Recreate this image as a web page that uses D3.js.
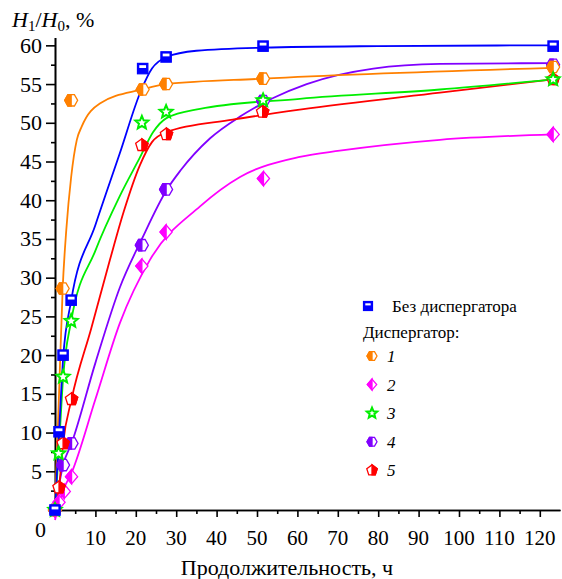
<!DOCTYPE html>
<html><head><meta charset="utf-8">
<script src="https://cdn.jsdelivr.net/npm/d3@7"></script></head>
<body style="margin:0">
<svg id="chart" width="562" height="579"></svg>
<script>
const FONT = 'Times New Roman';

// measured points (hours, H1/H0 %)
const tBlue = [0, 1, 2, 4, 21.7, 27.5, 51.5, 123.3];
const vBlue = [0, 10.1, 20, 27.1, 57.0, 58.5, 59.9, 59.9];
const tOrange = [0, 1.9, 4, 21.7, 27.5, 51.5, 123.3];
const vOrange = [0, 28.6, 52.9, 54.3, 55.0, 55.7, 57.2];
const tMagenta = [0, 1, 2.3, 4.1, 21.5, 27.5, 51.6, 123.3];
const vMagenta = [0, 1.0, 2.4, 4.3, 31.5, 35.9, 42.8, 48.5];
const tGreen = [0, 0.9, 2, 4, 21.5, 27.5, 51.5, 123.3];
const vGreen = [0, 7.3, 17.2, 24.4, 50.0, 51.4, 52.9, 55.6];
const tPurple = [0, 2, 4.1, 21.5, 27.5, 51.5, 123.3];
const vPurple = [0, 5.8, 8.6, 34.2, 41.4, 52.8, 57.5];
const tRed = [0, 1, 2, 4.1, 21.5, 27.6, 51.4, 123.3];
const vRed = [0, 2.9, 8.6, 14.3, 47.1, 48.5, 51.4, 55.6];

// smoothed fit curves, knots
const fitBlue = [[0,0],[1,10],[2,19.5],[4,27],[10,36.8],[16,46],[21.4,54.3],[24,57],[27.6,58.5],[35,59.3],[51.5,59.7],[80,59.9],[123.3,60]];
const fitOrange = [[0,0],[1,15],[1.9,28.6],[2.8,36.2],[4,43],[5.4,47.8],[6.6,49.5],[11.1,52.5],[21.5,54.3],[27.5,55],[51.5,55.7],[123.3,57.1]];
const fitGreen = [[0,0],[0.9,7.3],[2,17],[4,24.4],[10,33.5],[16,40.5],[21,45.5],[24.3,48.8],[27.6,50.6],[35.9,51.8],[60.6,53.1],[95.3,54.3],[123.3,55.6]];
const fitRed = [[0,0],[1,2.9],[2,8.6],[4.1,14.3],[9,23.5],[13.6,32.3],[17,38.5],[21,44.5],[24,47.5],[27.6,48.8],[44,50.4],[60.6,51.7],[95.3,53.9],[123.3,55.6]];
const fitPurple = [[0,0],[2,5.8],[4.1,8.6],[10,19],[16.1,28.8],[21.5,35],[27.6,41.3],[31,43.8],[38.4,48],[45.8,50.8],[54,53.2],[62.3,55],[78.8,57],[95.3,57.6],[123.3,57.7]];
const fitMagenta = [[0,-1.3],[1,0.8],[2,2.5],[4.1,4.8],[10,14.3],[16.1,24.2],[23.5,32.3],[35.9,39.2],[45.8,43],[60.6,45.6],[70.5,46.4],[95.3,47.8],[123.3,48.5]];

const xTicks = [10, 20, 30, 40, 50, 60, 70, 80, 90, 100, 110, 120];
const yTicks = [5, 10, 15, 20, 25, 30, 35, 40, 45, 50, 55, 60];

const svg = d3.select('#chart');
const x = d3.scaleLinear().domain([0, 125]).range([55, 560]);
const y = d3.scaleLinear().domain([0, 61]).range([510, 37.6]);

// marker shapes: draw into a g centred at 0,0
function hexagon(g, color, r) {
  const h = r * 0.87;
  g.append('path').attr('d', `M${-r},0L${-r/2},${-h}L${r/2},${-h}L${r},0L${r/2},${h}L${-r/2},${h}Z`)
    .attr('fill', '#fff').attr('stroke', color).attr('stroke-width', 1.3);
  g.append('path').attr('d', `M${-r},0L${-r/2},${-h}L0,${-h}L0,${h}L${-r/2},${h}Z`)
    .attr('fill', color).attr('stroke', color).attr('stroke-width', 1.3);
}
function diamond(g, color, r) {
  const w = r * 0.85;
  g.append('path').attr('d', `M0,${-r}L${w},0L0,${r}L${-w},0Z`)
    .attr('fill', '#fff').attr('stroke', color).attr('stroke-width', 1.3);
  g.append('path').attr('d', `M0,${-r}L0,${r}L${-w},0Z`)
    .attr('fill', color).attr('stroke', color).attr('stroke-width', 1.3);
}
function star(g, color, r) {
  const pts = [];
  for (let i = 0; i < 10; i++) {
    const a = -Math.PI / 2 + i * Math.PI / 5;
    const rr = i % 2 ? r * 0.45 : r;
    pts.push([rr * Math.cos(a), rr * Math.sin(a)]);
  }
  g.append('path').attr('d', 'M' + pts.join('L') + 'Z')
    .attr('fill', '#fff').attr('stroke', color).attr('stroke-width', 2);
}
function pentagon(g, color, r) {
  const pts = [];
  for (let i = 0; i < 5; i++) {
    const a = -Math.PI / 2 + i * 2 * Math.PI / 5;
    pts.push([r * Math.cos(a), r * Math.sin(a)]);
  }
  g.append('path').attr('d', 'M' + pts.join('L') + 'Z')
    .attr('fill', '#fff').attr('stroke', color).attr('stroke-width', 1.3);
  g.append('path').attr('d', `M0,${-r}L${pts[1]}L${pts[2]}L0,${pts[2][1]}Z`)
    .attr('fill', color).attr('stroke', color).attr('stroke-width', 1.3);
}
function square(g, color, r) {
  g.append('rect').attr('x', -r).attr('y', -r).attr('width', 2 * r).attr('height', 2 * r)
    .attr('fill', color).attr('stroke', color).attr('stroke-width', 1.2);
  g.append('rect').attr('x', -r + 1.8).attr('y', -r + 1.8).attr('width', 2 * r - 3.6).attr('height', r - 2.4)
    .attr('fill', '#fff');
}

const series = [
  { t: tMagenta, v: vMagenta, fit: fitMagenta, color: '#ff00ff', mark: (g, s) => diamond(g, '#ff00ff', s * 1.1) },
  { t: tPurple, v: vPurple, fit: fitPurple, color: '#8000ff', mark: (g, s) => hexagon(g, '#8000ff', s) },
  { t: tRed, v: vRed, fit: fitRed, color: '#ff0000', mark: (g, s) => pentagon(g, '#ff0000', s) },
  { t: tOrange, v: vOrange, fit: fitOrange, color: '#ff8000', mark: (g, s) => hexagon(g, '#ff8000', s) },
  { t: tGreen, v: vGreen, fit: fitGreen, color: '#00ee00', mark: (g, s) => star(g, '#00ee00', s * 1.05) },
  { t: tBlue, v: vBlue, fit: fitBlue, color: '#0000ff', mark: (g, s) => square(g, '#0000ff', s * 0.8) },
];

// text layer, straight on the svg
const labels = [];
yTicks.forEach(v => labels.push({ x: 42, y: y(v) + 7.5, size: 22, anchor: 'end', str: String(v) }));
xTicks.forEach(v => labels.push({ x: x(v), y: y(0) + 35, size: 21, anchor: 'middle', str: String(v) }));
labels.push({ x: 46, y: 537, size: 22, anchor: 'end', str: '0' });
labels.push({ x: 287, y: 575, size: 22, anchor: 'middle', str: 'Продолжительность, ч' });
labels.push({ x: 392, y: 312, size: 17, anchor: 'start', str: 'Без диспергатора' });
labels.push({ x: 363, y: 338, size: 17, anchor: 'start', str: 'Диспергатор:' });
labels.forEach(d => {
  svg.append('text').attr('x', d.x).attr('y', d.y).attr('font-size', d.size)
    .attr('font-family', FONT).attr('text-anchor', d.anchor).text(d.str);
});
const legendItems = ['1', '2', '3', '4', '5'];
legendItems.forEach((lab, i) => {
  svg.append('text').attr('x', 387).attr('y', 362 + i * 28.6).attr('font-size', 17)
    .attr('font-family', FONT).attr('font-style', 'italic').text(lab);
});
const yt = svg.append('text').attr('x', 12).attr('y', 27).attr('font-size', 22)
  .attr('font-family', FONT);
yt.append('tspan').attr('font-family', FONT).attr('font-style', 'italic').text('H');
yt.append('tspan').attr('font-family', FONT).attr('font-size', 15).attr('dy', 4).text('1');
yt.append('tspan').attr('font-family', FONT).attr('dy', -4).text('/');
yt.append('tspan').attr('font-family', FONT).attr('font-style', 'italic').text('H');
yt.append('tspan').attr('font-family', FONT).attr('font-size', 15).attr('dy', 4).text('0');
yt.append('tspan').attr('font-family', FONT).attr('dy', -4).text(', %');

// axes: lines and ticks from d3 (labels above)
svg.append('g').attr('transform', `translate(${x(0)},0)`)
  .call(d3.axisLeft(y).tickValues(yTicks).tickSize(9).tickSizeOuter(0).tickFormat(''));
svg.append('g').attr('transform', `translate(${x(0)},0)`)
  .call(d3.axisLeft(y).tickValues(d3.range(2.5, 61, 5)).tickSize(4).tickFormat('').tickSizeOuter(0));
svg.append('g').attr('transform', `translate(0,${y(0)})`)
  .call(d3.axisBottom(x).tickValues(xTicks).tickSize(7).tickSizeOuter(0).tickFormat(''));
svg.append('g').attr('transform', `translate(0,${y(0)})`)
  .call(d3.axisBottom(x).tickValues(d3.range(5, 125, 10)).tickSize(4).tickFormat('').tickSizeOuter(0));
svg.selectAll('.domain, .tick line').attr('stroke', '#000').attr('stroke-width', 1.6);
svg.selectAll('.tick text').remove();

// fit curves
const line = d3.line().x(d => x(d[0])).y(d => y(d[1])).curve(d3.curveMonotoneX);
series.forEach(s => {
  svg.append('path').datum(s.fit).attr('d', line)
    .attr('fill', 'none').attr('stroke', s.color).attr('stroke-width', 1.8);
});

// markers
series.forEach(s => {
  s.t.forEach((t, i) => {
    const g = svg.append('g').attr('transform', `translate(${x(t)},${y(s.v[i])})`);
    s.mark(g, 6.5);
  });
});

// legend markers
const legendMarks = [
  g => hexagon(g, '#ff8000', 5),
  g => diamond(g, '#ff00ff', 5.5),
  g => star(g, '#00ee00', 5.5),
  g => hexagon(g, '#8000ff', 5),
  g => pentagon(g, '#ff0000', 5.5),
];
square(svg.append('g').attr('transform', 'translate(368,306)'), '#0000ff', 4.5);
legendMarks.forEach((m, i) => m(svg.append('g').attr('transform', `translate(372,${356 + i * 28.6})`)));
</script>
</body>
</html>
